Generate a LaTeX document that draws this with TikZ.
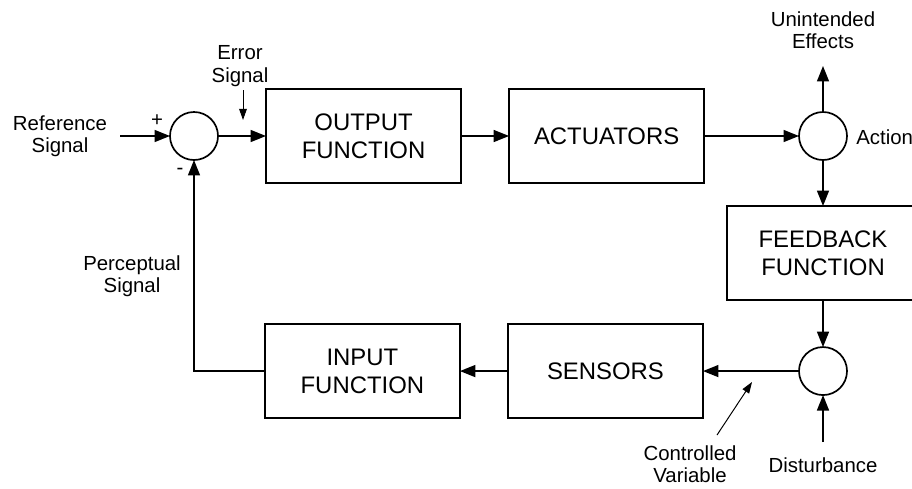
\documentclass[tikz,border=0pt]{standalone}
\usepackage{fontspec}
\setmainfont{Liberation Sans}
\usetikzlibrary{positioning}
\usetikzlibrary{arrows.meta}
\tikzstyle{block} = [rectangle,
minimum width=4.875cm,
minimum height=2.35cm,
outer sep=0pt,
text centered,
align=center,
draw=black,
line width=1.2pt,
font=\fontsize{17}{20}\selectfont]
\tikzstyle{sum} = [circle, minimum size=1.2cm, inner sep=0pt, outer sep=0pt, draw=black, line width=1.2pt]
\tikzstyle{lbl} = [align=center, inner sep=0pt, font=\fontsize{14.5}{16}\selectfont]
\tikzstyle{arrow} = [line width=1.2pt,->,>={Triangle[length=11pt, width=8.5pt]}]
\tikzstyle{pointer} = [line width=0.7pt,->,>={Triangle[length=8pt, width=5.5pt]}]

\begin{document}
\begin{tikzpicture}[x=0.025cm, y=-0.025cm]
    \useasboundingbox (0,0) rectangle (912,488);

    % forward path
    \node[sum] (sumref) at (194,136) {};
    \node[block] (output) [right=1.2cm of sumref] {OUTPUT\\FUNCTION};
    \node[block] (actuators) [right=1.2cm of output] {ACTUATORS};
    \node[sum] (sumact) at (823,136) {};
    \node[block, minimum width=4.8cm] (feedback) [below=1.15cm of sumact] {FEEDBACK\\FUNCTION};
    \node[sum] (sumdist) [below=1.175cm of feedback] {};
    \node[block] (sensors) [left=2.4cm of sumdist] {SENSORS};
    \node[block] (input) [left=1.2cm of sensors] {INPUT\\FUNCTION};

    % labels
    \node[lbl] (refsig) at (60,136) {Reference\\Signal};
    \node[lbl] (errsig) at (240,66) {Error\\Signal};
    \node[lbl] (unintended) at (823,30) {Unintended\\Effects};
    \node[lbl, anchor=west] (action) at (856,137) {Action};
    \node[lbl] (percsig) at (132,276) {Perceptual\\Signal};
    \node[lbl] (ctrlvar) at (690,464) {Controlled\\Variable};
    \node[lbl] (disturb) at (823,465) {Disturbance};
    \node[lbl] (plus) at (157,121) {+};
    \node[lbl] (minus) at (180,171) {-};

    \coordinate (refstart) at (120,136);
    \coordinate[above=1.15cm of sumact.north] (uptip);
    \coordinate[below=1.175cm of sumdist.south] (diststart);
    \coordinate (errtop) at (243,90);
    \coordinate (errtip) at (243,120);
    \coordinate (ctrlfoot) at (717,435);
    \coordinate (ctrltip) at (752,382);

    \draw[arrow] (refstart) -- (sumref.west);
    \draw[arrow] (sumref.east) -- (output.west);
    \draw[arrow] (output) -- (actuators);
    \draw[arrow] (actuators) -- (sumact);
    \draw[arrow] (sumact) -- (uptip);
    \draw[arrow] (sumact) -- (feedback);
    \draw[arrow] (feedback) -- (sumdist);
    \draw[arrow] (diststart) -- (sumdist);
    \draw[arrow] (sumdist) -- (sensors);
    \draw[arrow] (sensors) -- (input);
    \draw[arrow] (input.west) -| (sumref.south);

    \draw[pointer] (errtop) -- (errtip);
    \draw[pointer] (ctrlfoot) -- (ctrltip);
\end{tikzpicture}
\end{document}
